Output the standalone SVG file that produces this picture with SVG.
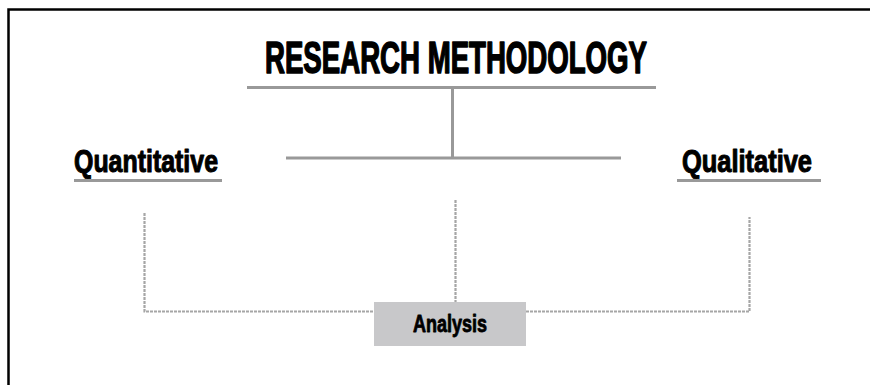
<svg xmlns="http://www.w3.org/2000/svg" width="870" height="385" viewBox="0 0 870 385">
<style>
.t{font-family:"Liberation Sans",Arial,sans-serif;font-weight:bold;fill:#000;stroke:#000;stroke-linejoin:round}
.solid{stroke:#999;stroke-width:3;fill:none}
.dot{stroke:#a6a6a6;stroke-width:2.2;stroke-dasharray:3 1;fill:none}
</style>
<rect x="0" y="0" width="870" height="385" fill="#fff"/>
<path d="M8.5,385 V9.5 H870" stroke="#000" stroke-width="2.5" fill="none"/>
<g id="connectors">
<path class="solid" d="M247,87.5 H656 M452.5,87.5 V158 M286,158 H621"/>
<path class="dot" d="M144.5,213 V311.5 H374"/>
<path class="dot" d="M455.5,200 V302"/>
<path class="dot" d="M526,311.5 H749.5 V217"/>
</g>
<g id="title">
<text class="t" x="265" y="73" font-size="44" stroke-width="1.6" textLength="382" lengthAdjust="spacingAndGlyphs">RESEARCH METHODOLOGY</text>
</g>
<g id="quantitative">
<text class="t" x="74" y="172" font-size="32" stroke-width="1.1" textLength="144" lengthAdjust="spacingAndGlyphs">Quantitative</text>
<path class="solid" d="M74,180.5 H222"/>
</g>
<g id="qualitative">
<text class="t" x="682" y="172" font-size="32" stroke-width="1.1" textLength="130" lengthAdjust="spacingAndGlyphs">Qualitative</text>
<path class="solid" d="M677,180.5 H821"/>
</g>
<g id="analysis">
<rect x="374" y="302" width="152" height="44" fill="#c8c8ca"/>
<text class="t" x="413" y="332" font-size="23" stroke-width="0.8" textLength="74" lengthAdjust="spacingAndGlyphs">Analysis</text>
</g>
</svg>
